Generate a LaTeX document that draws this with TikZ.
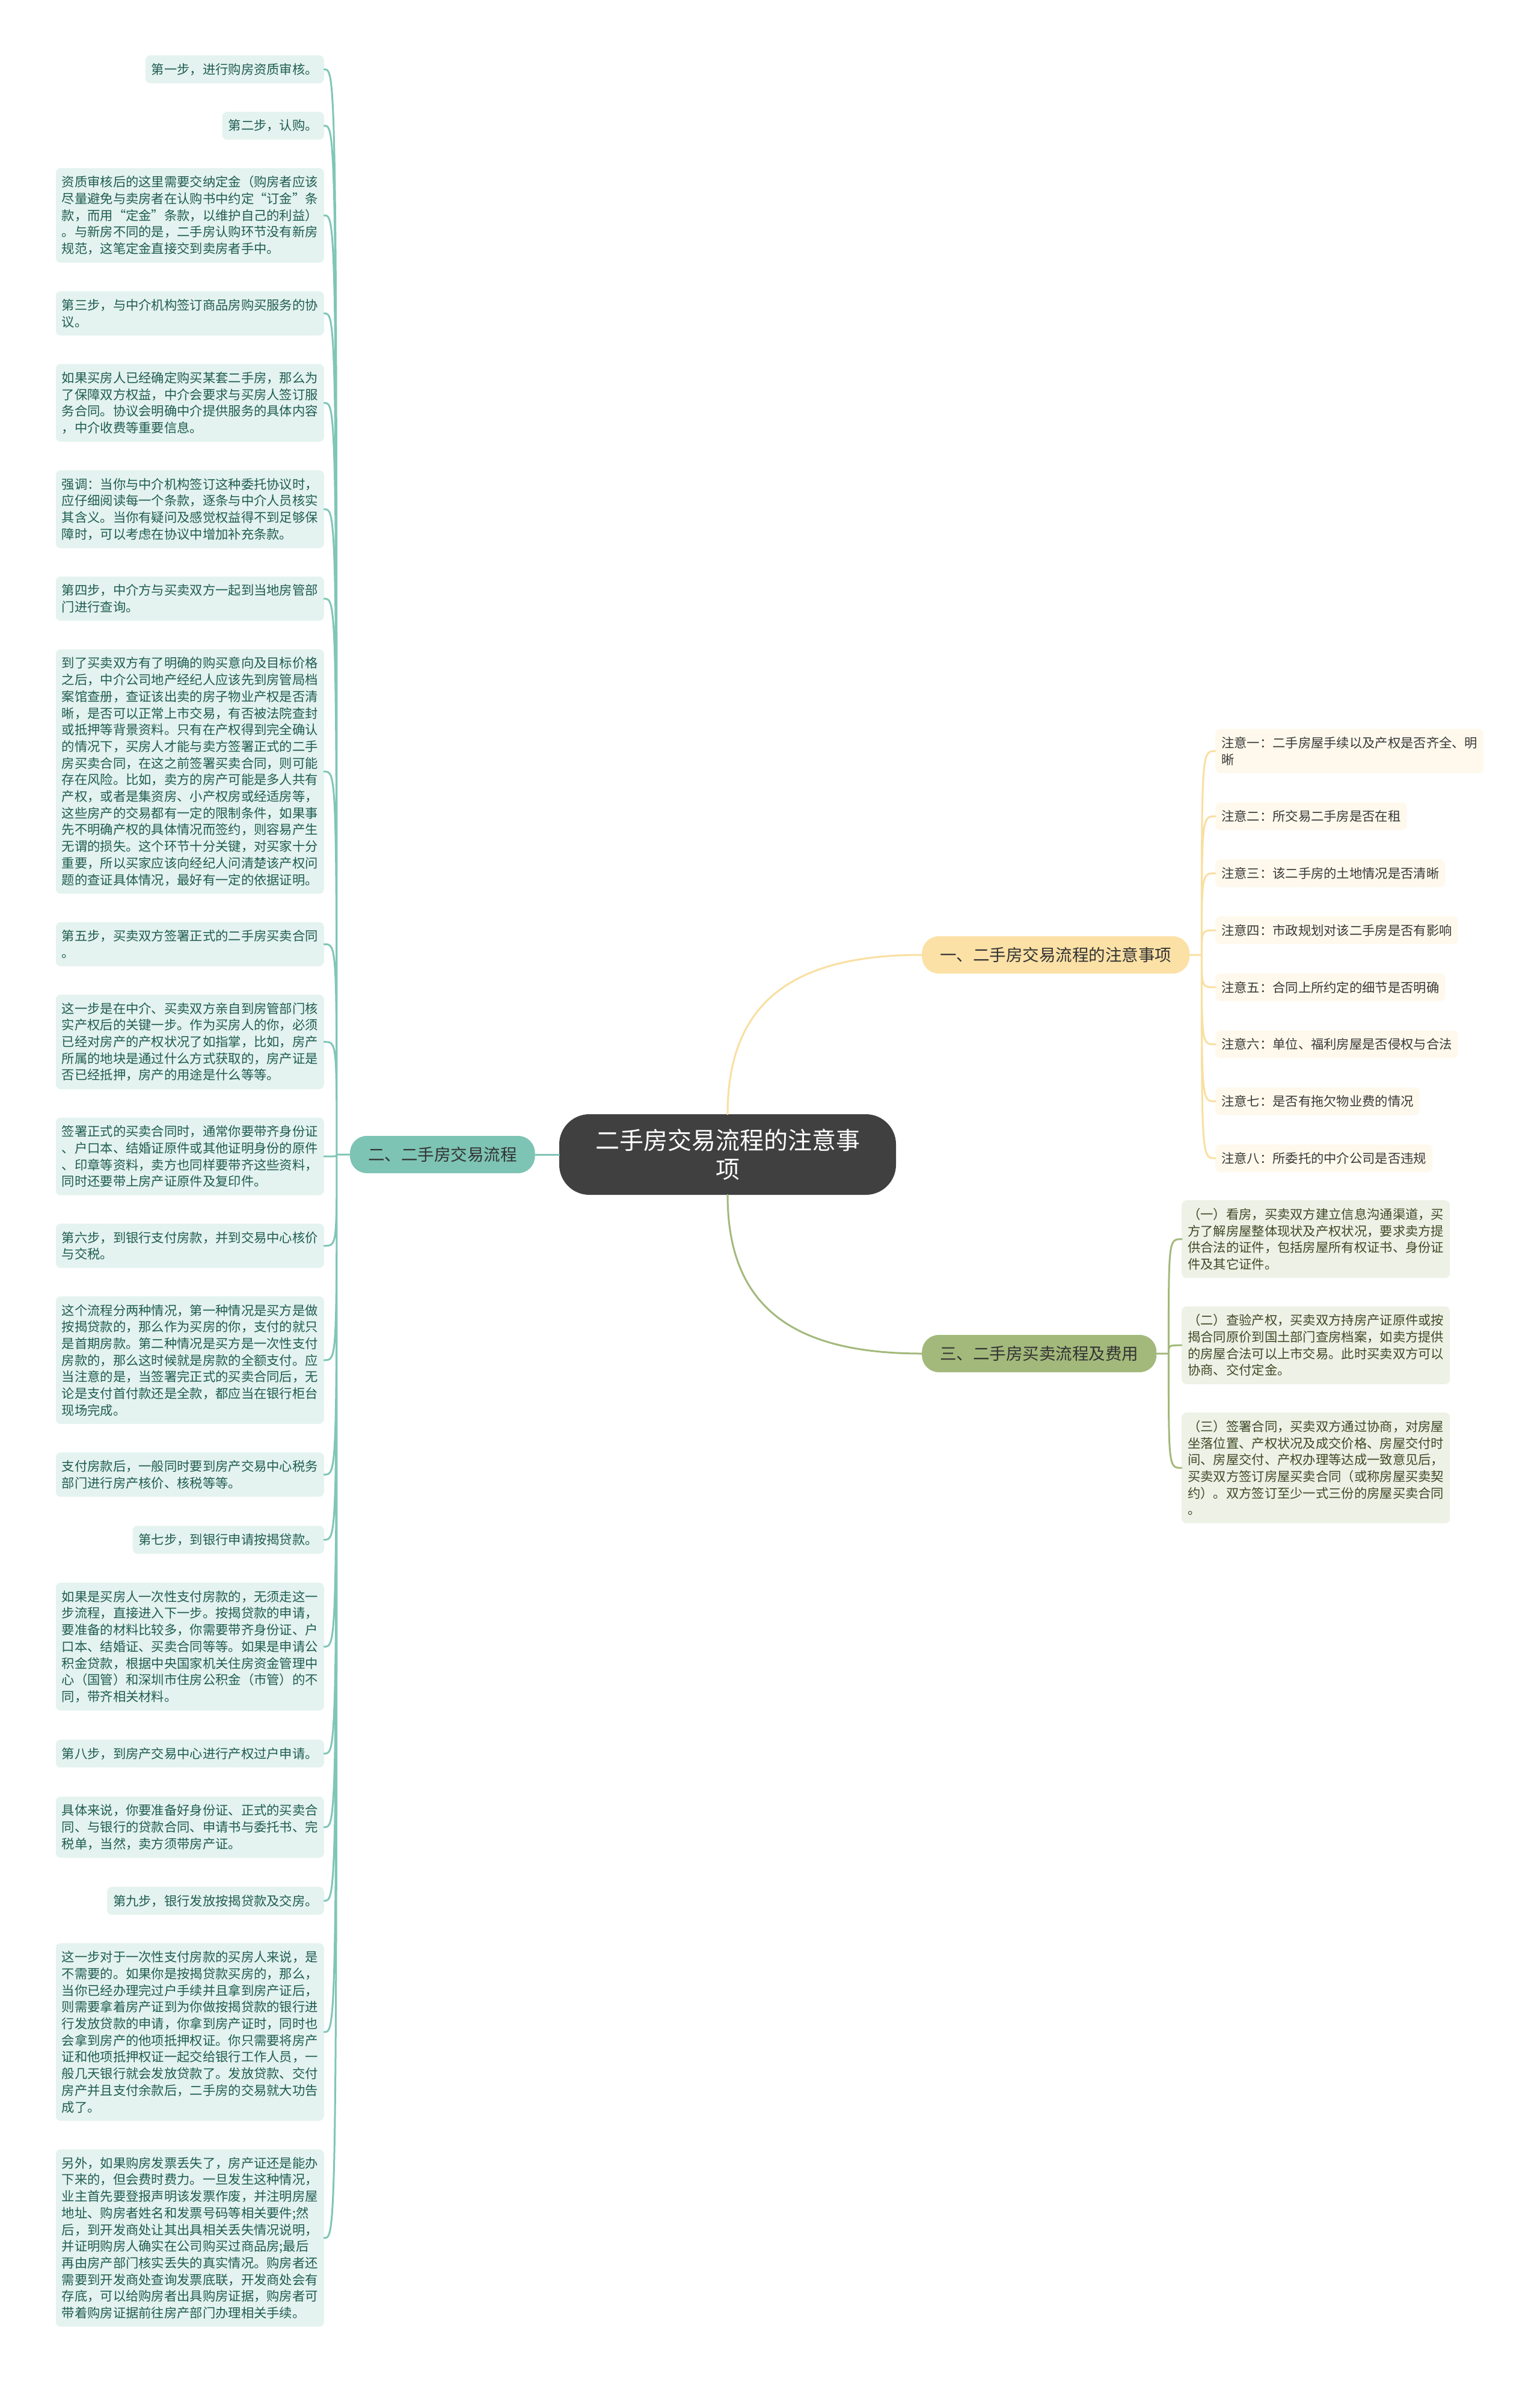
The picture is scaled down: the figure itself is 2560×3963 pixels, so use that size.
\documentclass[tikz,border=0pt]{standalone}
\usepackage{fontspec}
\setmainfont{Noto Sans CJK SC}
\usepackage{tikz}
\usetikzlibrary{positioning}
\definecolor{rootgray}{HTML}{404040}
\definecolor{flowline}{HTML}{7FC6B6}
\definecolor{flowfill}{HTML}{E4F3EF}
\definecolor{flowtext}{HTML}{1F5C52}
\definecolor{flowhead}{HTML}{7DC4B4}
\definecolor{cautionline}{HTML}{F9DFA0}
\definecolor{cautionhead}{HTML}{FCE1A6}
\definecolor{cautionfill}{HTML}{FEF9EC}
\definecolor{tradeline}{HTML}{A3B97B}
\definecolor{tradefill}{HTML}{EEF1E6}
\definecolor{tradetext}{HTML}{3D4A26}

\tikzset{
  fanin/.style={to path={.. controls (\tikztostart |- \tikztotarget) and (\tikztostart |- \tikztotarget) .. (\tikztotarget)}},
  leafbox/.style={rounded corners=8pt,inner xsep=10pt,inner ysep=13pt,align=left,font=\fontsize{21.3}{27.7}\selectfont},
  stepnote/.style={leafbox,fill=flowfill,text=flowtext},
  cautionnote/.style={leafbox,fill=cautionfill,text=black!78},
  tradenote/.style={leafbox,fill=tradefill,text=tradetext},
  headbox/.style={rounded corners=28pt,inner xsep=30pt,minimum height=62pt,font=\fontsize{27.5}{33}\selectfont,text=black!80}
}

\begin{document}
\begin{tikzpicture}[x=1pt,y=-1pt,line cap=round]
\useasboundingbox (0,0) rectangle (2560,3963);
\fill[white] (0,0) rectangle (2560,3963);

% centre and main branches
\node[fill=rootgray,text=white,rounded corners=50pt,minimum width=560pt,minimum height=134pt,align=center,font=\fontsize{40}{48}\selectfont] (root) at (1210,1920) {二手房交易流程的注意事\\项};
\node[headbox,fill=flowhead,left=40pt of root] (flow) {二、二手房交易流程};
\node[headbox,fill=cautionhead,anchor=west] (caution) at (1533,1588) {一、二手房交易流程的注意事项};
\node[headbox,fill=tradeline,anchor=west] (trade) at (1533,2251) {三、二手房买卖流程及费用};

\draw[flowline,line width=3pt] (root.west) -- (flow.east);
\draw[cautionline,line width=3pt] (root.north) .. controls +(0,-190) and +(-210,0) .. (caution.west);
\draw[tradeline,line width=3pt] (root.south) .. controls +(0,190) and +(-210,0) .. (trade.west);

% left column: the steps
\node[stepnote,anchor=north east] (s1) at (539,92) {第一步，进行购房资质审核。};
\node[stepnote,below=47pt of s1.south east,anchor=north east] (s2) {第二步，认购。};
\node[stepnote,below=47pt of s2.south east,anchor=north east] (s3) {资质审核后的这里需要交纳定金（购房者应该\\
尽量避免与卖房者在认购书中约定“订金”条\\
款，而用“定金”条款，以维护自己的利益）\\
。与新房不同的是，二手房认购环节没有新房\\
规范，这笔定金直接交到卖房者手中。};
\node[stepnote,below=47pt of s3.south east,anchor=north east] (s4) {第三步，与中介机构签订商品房购买服务的协\\
议。};
\node[stepnote,below=47pt of s4.south east,anchor=north east] (s5) {如果买房人已经确定购买某套二手房，那么为\\
了保障双方权益，中介会要求与买房人签订服\\
务合同。协议会明确中介提供服务的具体内容\\
，中介收费等重要信息。};
\node[stepnote,below=47pt of s5.south east,anchor=north east] (s6) {强调：当你与中介机构签订这种委托协议时，\\
应仔细阅读每一个条款，逐条与中介人员核实\\
其含义。当你有疑问及感觉权益得不到足够保\\
障时，可以考虑在协议中增加补充条款。};
\node[stepnote,below=47pt of s6.south east,anchor=north east] (s7) {第四步，中介方与买卖双方一起到当地房管部\\
门进行查询。};
\node[stepnote,below=47pt of s7.south east,anchor=north east] (s8) {到了买卖双方有了明确的购买意向及目标价格\\
之后，中介公司地产经纪人应该先到房管局档\\
案馆查册，查证该出卖的房子物业产权是否清\\
晰，是否可以正常上市交易，有否被法院查封\\
或抵押等背景资料。只有在产权得到完全确认\\
的情况下，买房人才能与卖方签署正式的二手\\
房买卖合同，在这之前签署买卖合同，则可能\\
存在风险。比如，卖方的房产可能是多人共有\\
产权，或者是集资房、小产权房或经适房等，\\
这些房产的交易都有一定的限制条件，如果事\\
先不明确产权的具体情况而签约，则容易产生\\
无谓的损失。这个环节十分关键，对买家十分\\
重要，所以买家应该向经纪人问清楚该产权问\\
题的查证具体情况，最好有一定的依据证明。};
\node[stepnote,below=47pt of s8.south east,anchor=north east] (s9) {第五步，买卖双方签署正式的二手房买卖合同\\
。};
\node[stepnote,below=47pt of s9.south east,anchor=north east] (s10) {这一步是在中介、买卖双方亲自到房管部门核\\
实产权后的关键一步。作为买房人的你，必须\\
已经对房产的产权状况了如指掌，比如，房产\\
所属的地块是通过什么方式获取的，房产证是\\
否已经抵押，房产的用途是什么等等。};
\node[stepnote,below=47pt of s10.south east,anchor=north east] (s11) {签署正式的买卖合同时，通常你要带齐身份证\\
、户口本、结婚证原件或其他证明身份的原件\\
、印章等资料，卖方也同样要带齐这些资料，\\
同时还要带上房产证原件及复印件。};
\node[stepnote,below=47pt of s11.south east,anchor=north east] (s12) {第六步，到银行支付房款，并到交易中心核价\\
与交税。};
\node[stepnote,below=47pt of s12.south east,anchor=north east] (s13) {这个流程分两种情况，第一种情况是买方是做\\
按揭贷款的，那么作为买房的你，支付的就只\\
是首期房款。第二种情况是买方是一次性支付\\
房款的，那么这时候就是房款的全额支付。应\\
当注意的是，当签署完正式的买卖合同后，无\\
论是支付首付款还是全款，都应当在银行柜台\\
现场完成。};
\node[stepnote,below=47pt of s13.south east,anchor=north east] (s14) {支付房款后，一般同时要到房产交易中心税务\\
部门进行房产核价、核税等等。};
\node[stepnote,below=48pt of s14.south east,anchor=north east] (s15) {第七步，到银行申请按揭贷款。};
\node[stepnote,below=48pt of s15.south east,anchor=north east] (s16) {如果是买房人一次性支付房款的，无须走这一\\
步流程，直接进入下一步。按揭贷款的申请，\\
要准备的材料比较多，你需要带齐身份证、户\\
口本、结婚证、买卖合同等等。如果是申请公\\
积金贷款，根据中央国家机关住房资金管理中\\
心（国管）和深圳市住房公积金（市管）的不\\
同，带齐相关材料。};
\node[stepnote,below=48pt of s16.south east,anchor=north east] (s17) {第八步，到房产交易中心进行产权过户申请。};
\node[stepnote,below=48pt of s17.south east,anchor=north east] (s18) {具体来说，你要准备好身份证、正式的买卖合\\
同、与银行的贷款合同、申请书与委托书、完\\
税单，当然，卖方须带房产证。};
\node[stepnote,below=48pt of s18.south east,anchor=north east] (s19) {第九步，银行发放按揭贷款及交房。};
\node[stepnote,below=47pt of s19.south east,anchor=north east] (s20) {这一步对于一次性支付房款的买房人来说，是\\
不需要的。如果你是按揭贷款买房的，那么，\\
当你已经办理完过户手续并且拿到房产证后，\\
则需要拿着房产证到为你做按揭贷款的银行进\\
行发放贷款的申请，你拿到房产证时，同时也\\
会拿到房产的他项抵押权证。你只需要将房产\\
证和他项抵押权证一起交给银行工作人员，一\\
般几天银行就会发放贷款了。发放贷款、交付\\
房产并且支付余款后，二手房的交易就大功告\\
成了。};
\node[stepnote,below=47pt of s20.south east,anchor=north east] (s21) {另外，如果购房发票丢失了，房产证还是能办\\
下来的，但会费时费力。一旦发生这种情况，\\
业主首先要登报声明该发票作废，并注明房屋\\
地址、购房者姓名和发票号码等相关要件;然\\
后，到开发商处让其出具相关丢失情况说明，\\
并证明购房人确实在公司购买过商品房;最后\\
再由房产部门核实丢失的真实情况。购房者还\\
需要到开发商处查询发票底联，开发商处会有\\
存底，可以给购房者出具购房证据，购房者可\\
带着购房证据前往房产部门办理相关手续。};

\coordinate (fhub) at ([xshift=-22pt]flow.west);
\draw[flowline,line width=3pt] (flow.west) -- (fhub)
  (fhub) to[fanin] (s1.east) (fhub) to[fanin] (s2.east) (fhub) to[fanin] (s3.east)
  (fhub) to[fanin] (s4.east) (fhub) to[fanin] (s5.east) (fhub) to[fanin] (s6.east)
  (fhub) to[fanin] (s7.east) (fhub) to[fanin] (s8.east) (fhub) to[fanin] (s9.east)
  (fhub) to[fanin] (s10.east) (fhub) to[fanin] (s11.east) (fhub) to[fanin] (s12.east)
  (fhub) to[fanin] (s13.east) (fhub) to[fanin] (s14.east) (fhub) to[fanin] (s15.east)
  (fhub) to[fanin] (s16.east) (fhub) to[fanin] (s17.east) (fhub) to[fanin] (s18.east)
  (fhub) to[fanin] (s19.east) (fhub) to[fanin] (s20.east) (fhub) to[fanin] (s21.east);

% right: the points of caution
\node[cautionnote,anchor=north west] (c1) at (2021,1212) {注意一：二手房屋手续以及产权是否齐全、明\\晰};
\node[cautionnote,below=48.5pt of c1.south west,anchor=north west] (c2) {注意二：所交易二手房是否在租};
\node[cautionnote,below=48.5pt of c2.south west,anchor=north west] (c3) {注意三：该二手房的土地情况是否清晰};
\node[cautionnote,below=48.5pt of c3.south west,anchor=north west] (c4) {注意四：市政规划对该二手房是否有影响};
\node[cautionnote,below=48.5pt of c4.south west,anchor=north west] (c5) {注意五：合同上所约定的细节是否明确};
\node[cautionnote,below=48.5pt of c5.south west,anchor=north west] (c6) {注意六：单位、福利房屋是否侵权与合法};
\node[cautionnote,below=48.5pt of c6.south west,anchor=north west] (c7) {注意七：是否有拖欠物业费的情况};
\node[cautionnote,below=48.5pt of c7.south west,anchor=north west] (c8) {注意八：所委托的中介公司是否违规};

\coordinate (chub) at ([xshift=20pt]caution.east);
\draw[cautionline,line width=3pt] (caution.east) -- (chub)
  (chub) to[fanin] (c1.west) (chub) to[fanin] (c2.west) (chub) to[fanin] (c3.west)
  (chub) to[fanin] (c4.west) (chub) to[fanin] (c5.west) (chub) to[fanin] (c6.west)
  (chub) to[fanin] (c7.west) (chub) to[fanin] (c8.west);

% right: buying and selling
\node[tradenote,anchor=north west] (t1) at (1965,1996) {（一）看房，买卖双方建立信息沟通渠道，买\\
方了解房屋整体现状及产权状况，要求卖方提\\
供合法的证件，包括房屋所有权证书、身份证\\
件及其它证件。};
\node[tradenote,below=47pt of t1.south west,anchor=north west] (t2) {（二）查验产权，买卖双方持房产证原件或按\\
揭合同原价到国土部门查房档案，如卖方提供\\
的房屋合法可以上市交易。此时买卖双方可以\\
协商、交付定金。};
\node[tradenote,below=47pt of t2.south west,anchor=north west] (t3) {（三）签署合同，买卖双方通过协商，对房屋\\
坐落位置、产权状况及成交价格、房屋交付时\\
间、房屋交付、产权办理等达成一致意见后，\\
买卖双方签订房屋买卖合同（或称房屋买卖契\\
约）。双方签订至少一式三份的房屋买卖合同\\
。};

\coordinate (thub) at ([xshift=20pt]trade.east);
\draw[tradeline,line width=3pt] (trade.east) -- (thub)
  (thub) to[fanin] (t1.west) (thub) to[fanin] (t2.west) (thub) to[fanin] (t3.west);
\end{tikzpicture}
\end{document}
